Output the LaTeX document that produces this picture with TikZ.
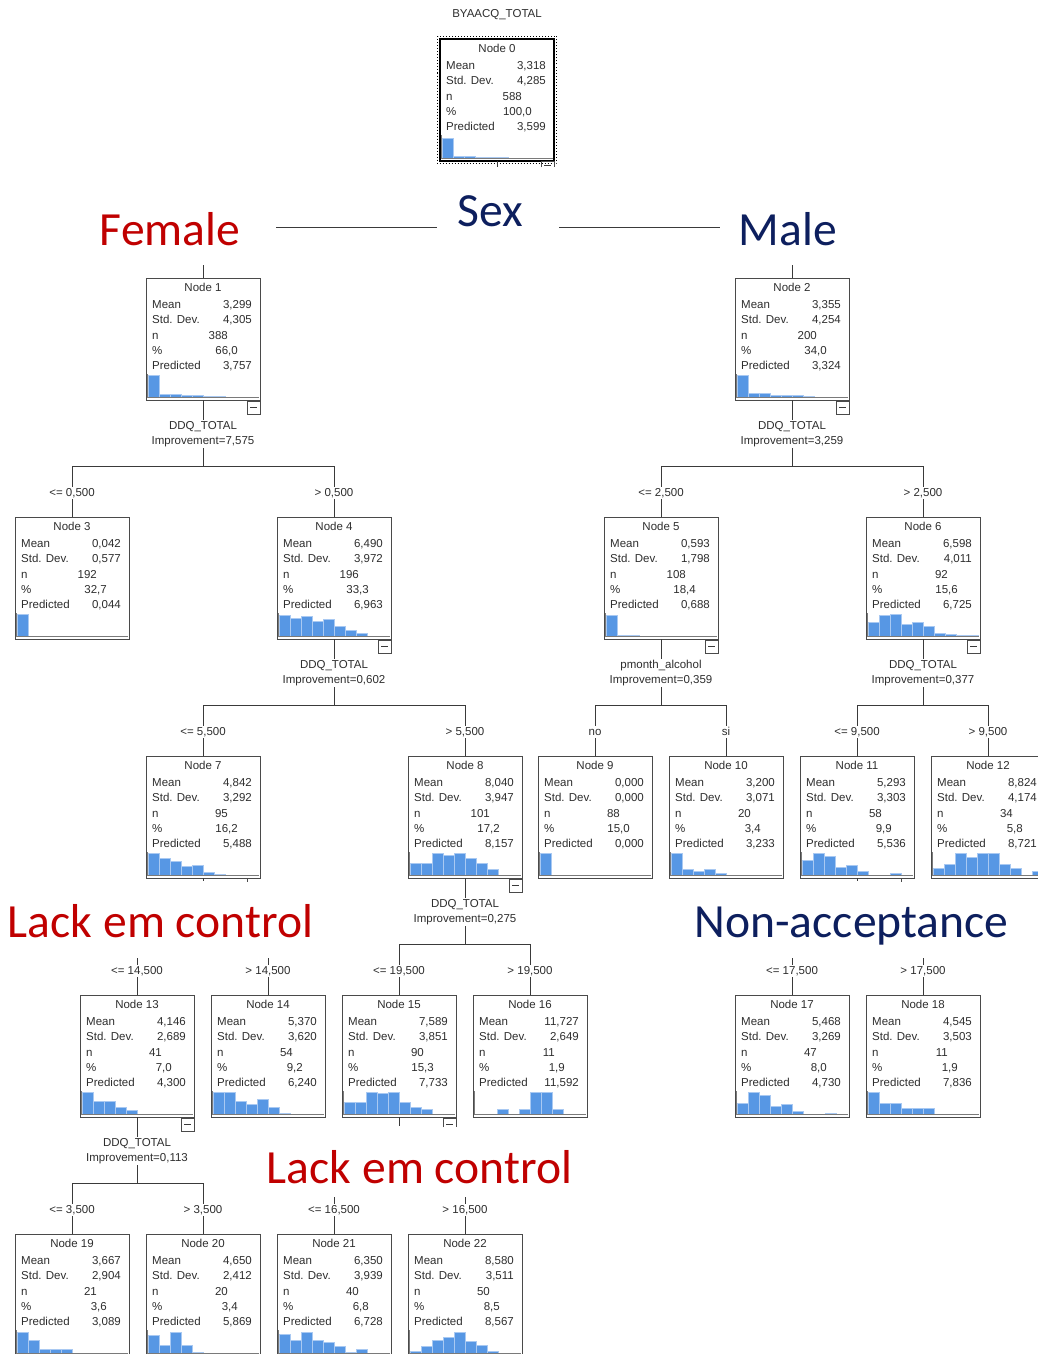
\documentclass[tikz,border=0pt]{standalone}
\usepackage{fontspec}
\setmainfont{Liberation Sans}
\newfontfamily\bigfont{Carlito}
\definecolor{histblue}{HTML}{5797E4}
\definecolor{histedge}{HTML}{A9C9F2}
\definecolor{txtc}{HTML}{2E2E2E}
\definecolor{linec}{HTML}{3A3A3A}
\definecolor{boxc}{HTML}{4A4A4A}
\definecolor{axisc}{HTML}{7A7A7A}
\definecolor{redlab}{HTML}{C00000}
\definecolor{navylab}{HTML}{0D1F5E}
\tikzset{
  nbox/.style={draw=boxc, line width=1pt, minimum width=114pt, minimum height=122pt, inner sep=0pt, outer sep=0pt},
  txt/.style={font=\fontsize{11.5}{14}\selectfont, text=txtc, inner sep=0pt},
  lbl/.style={txt, inner sep=1pt},
  slbl/.style={lbl, text height=8.3pt, text depth=2.2pt, anchor=base},
  conn/.style={draw=linec, line width=1pt},
  mbox/.style={draw=boxc, line width=1pt, minimum size=13pt, inner sep=0pt, outer sep=0pt},
  big/.style={font=\bigfont\fontsize{47.6}{50}\selectfont, inner sep=0pt, anchor=base},
}
\newcommand\treebox[9]{%
  \node[nbox] (#1) at ({#2+57},{#3+61}) {};
  \node[txt,anchor=base] (#1-t) at ({#2+57},{#3+13.8}) {Node #4};
  \node[txt,anchor=base west] (#1-a) at ({#2+6},{#3+30.5}) {Mean};
  \node[txt,anchor=base east] (#1-av) at ({#2+106},{#3+30.5}) {#5};
  \node[txt,anchor=base west] (#1-b) at ({#2+6},{#3+45.8}) {Std. Dev.};
  \node[txt,anchor=base east] (#1-bv) at ({#2+106},{#3+45.8}) {#6};
  \node[txt,anchor=base west] (#1-c) at ({#2+6},{#3+61.1}) {n};
  \node[txt,anchor=base east] (#1-cv) at ({#2+82},{#3+61.1}) {#7};
  \node[txt,anchor=base west] (#1-d) at ({#2+6},{#3+76.3}) {\%};
  \node[txt,anchor=base east] (#1-dv) at ({#2+92},{#3+76.3}) {#8};
  \node[txt,anchor=base west] (#1-e) at ({#2+6},{#3+91}) {Predicted};
  \node[txt,anchor=base east] (#1-ev) at ({#2+106},{#3+91}) {#9};
}
\newcommand\hist[3]{%
  \foreach \h [count=\i from 0] in {#3} {%
    \ifdim \h pt>0pt
      \filldraw[fill=histblue, draw=histedge, line width=0.5pt] ({#1+2+11*\i},{#2+119.5}) rectangle ({#1+13+11*\i},{#2+119.5-\h});
    \fi}%
  \draw[draw=axisc, line width=1.2pt] ({#1+1},{#2+119.8}) -- ({#1+113},{#2+119.8});
  \draw[draw=axisc, line width=1pt] ({#1+1.8},{#2+96}) -- ({#1+1.8},{#2+119.8});
}
\newcommand\minusbox[1]{%
  \node[mbox] (#1-m) at ([xshift=-6.5pt,yshift=-7.5pt]#1.south east) {};
  \draw[conn] ([xshift=3pt]#1-m.west) -- ([xshift=-3pt]#1-m.east);
}
\newcommand\splitto[7]{%
  \node[lbl,anchor=base] (#1-v1) at ([yshift=-29.3pt]#1.south) {#2};
  \node[lbl,anchor=base] (#1-v2) at ([yshift=-44.8pt]#1.south) {#3};
  \coordinate (#1-h) at ([yshift=-66pt]#1.south);
  \node[slbl] (#4-s) at ([yshift=21pt]#4.north) {#6};
  \node[slbl] (#5-s) at ([yshift=21pt]#5.north) {#7};
  \draw[conn] (#1.south) -- (#1-v1.north);
  \draw[conn] (#1-v2.south) -- (#1-h);
  \draw[conn] (#4-s.north) -- (#4-s.north |- #1-h) -- (#5-s.north |- #1-h) -- (#5-s.north);
  \draw[conn] (#4-s.south) -- (#4.north);
  \draw[conn] (#5-s.south) -- (#5.north);
  \minusbox{#1}
}
\newcommand\hidchild[2]{%
  \node[slbl] (#1-s) at ([yshift=21pt]#1.north) {#2};
  \coordinate (#1-top) at ([yshift=37pt]#1.north);
  \draw[conn] (#1-top) -- (#1-s.north);
  \draw[conn] (#1-s.south) -- (#1.north);
}
\begin{document}
\begin{tikzpicture}[x=1pt,y=-1pt]
\useasboundingbox (0,0) rectangle (1038,1354);
\fill[white] (0,0) rectangle (1038,1354);
\begin{scope}
\clip (0,0) rectangle (1038,1354);

\node[txt,anchor=base] (title) at (497,18) {BYAACQ\_TOTAL};

% ---- boxes ----
\treebox{n0}{440}{39}{0}{3,318}{4,285}{588}{100,0}{3,599}
\hist{440}{39}{20.5,2.5,2.2,1.7,1.5,0.8,0.5}
\draw[black, line width=1.2pt] (n0.south west) rectangle (n0.north east);
\draw[black, dotted, line width=1pt] ([shift={(-2.5pt,2.5pt)}]n0.north west) rectangle ([shift={(2.5pt,-2.5pt)}]n0.south east);

\treebox{n1}{146}{278}{1}{3,299}{4,305}{388}{66,0}{3,757}
\hist{146}{278}{22,3.3,3,2.3,2.3,1.7,1.3}
\treebox{n2}{735}{278}{2}{3,355}{4,254}{200}{34,0}{3,324}
\hist{735}{278}{22,4.3,4.3,2.7,2.7,2,1.3}

\treebox{n3}{15}{517}{3}{0,042}{0,577}{192}{32,7}{0,044}
\hist{15}{517}{22}
\treebox{n4}{277}{517}{4}{6,490}{3,972}{196}{33,3}{6,963}
\hist{277}{517}{21.7,18.7,20,15.3,17.3,10.7,6.3,3.3}
\treebox{n5}{604}{517}{5}{0,593}{1,798}{108}{18,4}{0,688}
\hist{604}{517}{21.3,1,1,0.5}
\treebox{n6}{866}{517}{6}{6,598}{4,011}{92}{15,6}{6,725}
\hist{866}{517}{14.7,21.3,22,12.7,14.7,10,3.3,2.7,1.3,1.3}

\treebox{n7}{146}{756}{7}{4,842}{3,292}{95}{16,2}{5,488}
\hist{146}{756}{22.7,17.7,14,9.3,10,3.7,1.3}
\treebox{n8}{408}{756}{8}{8,040}{3,947}{101}{17,2}{8,157}
\hist{408}{756}{12,12,22.7,20.7,22.7,17,12,6.7}
\treebox{n9}{538}{756}{9}{0,000}{0,000}{88}{15,0}{0,000}
\hist{538}{756}{22.7}
\treebox{n10}{669}{756}{10}{3,200}{3,071}{20}{3,4}{3,233}
\hist{669}{756}{22.7,6.7,4.3,6.7,2.7}
\treebox{n11}{800}{756}{11}{5,293}{3,303}{58}{9,9}{5,536}
\hist{800}{756}{15.3,22.7,19.3,8,10,4,0,0,2}
\treebox{n12}{931}{756}{12}{8,824}{4,174}{34}{5,8}{8,721}
\hist{931}{756}{7.3,11.3,22.7,18.7,22.7,22.7,11.3,7.3,0,4}

\treebox{n13}{80}{995}{13}{4,146}{2,689}{41}{7,0}{4,300}
\hist{80}{995}{22.3,13.3,13.3,7,4.7}
\treebox{n14}{211}{995}{14}{5,370}{3,620}{54}{9,2}{6,240}
\hist{211}{995}{22.3,22.3,13.3,10.3,15,7,1.7}
\treebox{n15}{342}{995}{15}{7,589}{3,851}{90}{15,3}{7,733}
\hist{342}{995}{12.7,12.7,22.3,21,22.3,12.7,7.7,5.3}
\treebox{n16}{473}{995}{16}{11,727}{2,649}{11}{1,9}{11,592}
\hist{473}{995}{0,0,5.3,0,5.3,22.3,22.3,5.3}
\treebox{n17}{735}{995}{17}{5,468}{3,269}{47}{8,0}{4,730}
\hist{735}{995}{11.3,22.7,19.7,8.3,10,3.3,0,0,1.7}
\treebox{n18}{866}{995}{18}{4,545}{3,503}{11}{1,9}{7,836}
\hist{866}{995}{22.7,11.3,11.3,6,6,6}

\treebox{n19}{15}{1234}{19}{3,667}{2,904}{21}{3,6}{3,089}
\hist{15}{1234}{21,13.7,4,4,4}
\treebox{n20}{146}{1234}{20}{4,650}{2,412}{20}{3,4}{5,869}
\hist{146}{1234}{18.3,8.3,21,8.3,1.7}
\treebox{n21}{277}{1234}{21}{6,350}{3,939}{40}{6,8}{6,728}
\hist{277}{1234}{19,13.7,21,13.7,11,7,1.7,4.3}
\treebox{n22}{408}{1234}{22}{8,580}{3,511}{50}{8,5}{8,567}
\hist{408}{1234}{2.3,7,13.7,16.3,21,12.3,8.3,2.3}

% ---- visible splits ----
\splitto{n1}{DDQ\_TOTAL}{Improvement=7,575}{n3}{n4}{<= 0,500}{> 0,500}
\splitto{n2}{DDQ\_TOTAL}{Improvement=3,259}{n5}{n6}{<= 2,500}{> 2,500}
\splitto{n4}{DDQ\_TOTAL}{Improvement=0,602}{n7}{n8}{<= 5,500}{> 5,500}
\splitto{n5}{pmonth\_alcohol}{Improvement=0,359}{n9}{n10}{no}{si}
\splitto{n6}{DDQ\_TOTAL}{Improvement=0,377}{n11}{n12}{<= 9,500}{> 9,500}
\splitto{n8}{DDQ\_TOTAL}{Improvement=0,275}{n15}{n16}{<= 19,500}{> 19,500}
\splitto{n13}{DDQ\_TOTAL}{Improvement=0,113}{n19}{n20}{<= 3,500}{> 3,500}

% ---- partly covered splits ----
\coordinate (n0-cut) at ([yshift=-6pt]n0.south);
\draw[conn] (n0.south) -- (n0-cut);
\draw[draw=boxc, line width=1pt] (541,167) -- (541,161.5) -- (554,161.5) -- (554,167);
\draw[conn] (544,165.5) -- (551,165.5);
\coordinate (n0-hl1) at (276,227);
\coordinate (n0-hl2) at (437,227);
\coordinate (n0-hr1) at (559,227);
\coordinate (n0-hr2) at (720,227);
\draw[conn] (n0-hl1) -- (n0-hl2);
\draw[conn] (n0-hr1) -- (n0-hr2);
\coordinate (n1-top) at ([yshift=13pt]n1.north);
\coordinate (n2-top) at ([yshift=13pt]n2.north);
\draw[conn] (n1-top) -- (n1.north);
\draw[conn] (n2-top) -- (n2.north);
\coordinate (n7-cut) at ([yshift=-3pt]n7.south);
\draw[conn] (n7.south) -- (n7-cut);
\draw[draw=boxc, line width=1pt] (247,879) -- (247,881.5);
\hidchild{n13}{<= 14,500}
\hidchild{n14}{> 14,500}
\coordinate (n11-cut) at ([yshift=-3pt]n11.south);
\draw[conn] (n11.south) -- (n11-cut);
\draw[draw=boxc, line width=1pt] (901,879) -- (901,881.5);
\hidchild{n17}{<= 17,500}
\hidchild{n18}{> 17,500}
\coordinate (n15-cut) at ([yshift=-9pt]n15.south);
\draw[conn] (n15.south) -- (n15-cut);
\draw[draw=boxc, line width=1pt] (443,1127) -- (443,1118) -- (456,1118) -- (456,1127);
\draw[conn] (446,1124.5) -- (453,1124.5);
\hidchild{n21}{<= 16,500}
\hidchild{n22}{> 16,500}

% ---- overlay labels ----
\node[big, text=redlab] (female) at (170,245) {Female};
\node[big, text=navylab] (sex) at (490,226) {Sex};
\node[big, text=navylab] (male) at (788,245) {Male};
\node[big, text=redlab] (lack1) at (160.5,937) {Lack em control};
\node[big, text=navylab] (nonacc) at (851.5,937) {Non-acceptance};
\node[big, text=redlab] (lack2) at (419.5,1183) {Lack em control};
\end{scope}
\end{tikzpicture}
\end{document}
